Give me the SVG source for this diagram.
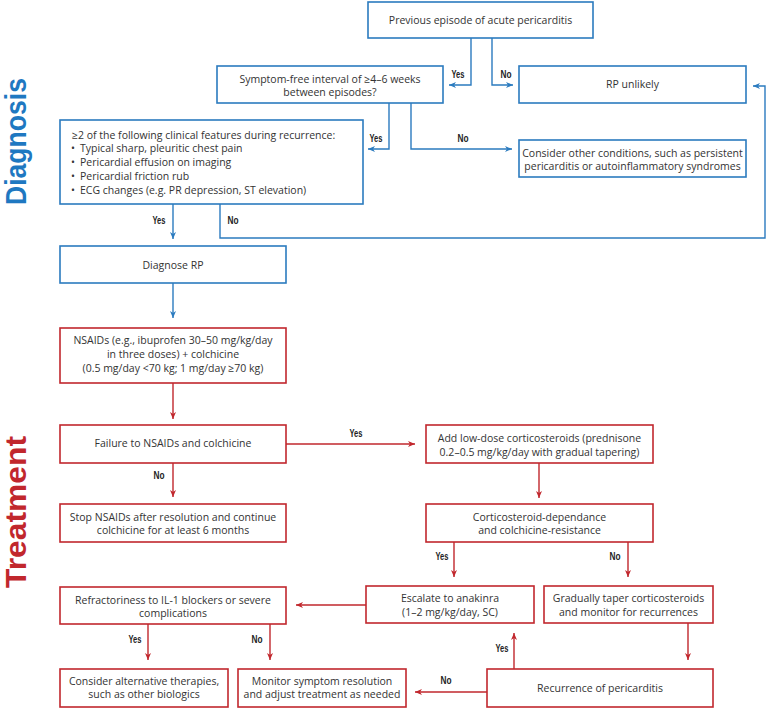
<svg xmlns="http://www.w3.org/2000/svg" width="767" height="709" viewBox="0 0 767 709">
<defs>
<marker id="ab" markerUnits="userSpaceOnUse" markerWidth="8" markerHeight="8" refX="7" refY="4" orient="auto">
<path d="M0,1 L7,4 L0,7 L2,4 z" fill="#2b7bbf"/>
</marker>
<marker id="ar" markerUnits="userSpaceOnUse" markerWidth="8" markerHeight="8" refX="7" refY="4" orient="auto">
<path d="M0,1 L7,4 L0,7 L2,4 z" fill="#c1272d"/>
</marker>
</defs>
<style>
.bb{fill:#fff;stroke:#2b7bbf;stroke-width:1.6}
.rb{fill:#fff;stroke:#c1272d;stroke-width:1.6}
.t{font-family:"Open Sans","Liberation Sans",sans-serif;font-size:10.5px;fill:#333;text-anchor:middle}
.tl{text-anchor:start}
.lb{font-family:"Liberation Sans",sans-serif;font-size:11px;font-weight:bold;fill:#222;text-anchor:middle}
.cb{fill:none;stroke:#2b7bbf;stroke-width:1.4;marker-end:url(#ab)}
.cr{fill:none;stroke:#c1272d;stroke-width:1.4;marker-end:url(#ar)}
.side{font-family:"Liberation Sans",sans-serif;font-weight:bold;font-size:29px}
</style>
<rect width="767" height="709" fill="#fff"/>
<text class="side" transform="translate(26,205) rotate(-90)" fill="#1f78c1" textLength="127" lengthAdjust="spacingAndGlyphs">Diagnosis</text>
<text class="side" transform="translate(26,588) rotate(-90)" fill="#c1272d" textLength="152" lengthAdjust="spacingAndGlyphs">Treatment</text>
<g id="connectors">
<path class="cb" d="M471,38 V85 H449"/>
<path class="cb" d="M492,38 V85 H513"/>
<path class="cb" d="M389,103 V149 H368"/>
<path class="cb" d="M411,103 V149 H512"/>
<path class="cb" d="M173,204 V239"/>
<path class="cb" d="M220,204 V238 H765 V86 H753"/>
<path class="cb" d="M173,283 V318"/>
<path class="cr" d="M173,383 V419"/>
<path class="cr" d="M286,444 H415"/>
<path class="cr" d="M173,463 V497"/>
<path class="cr" d="M539,463 V498"/>
<path class="cr" d="M454,542 V577"/>
<path class="cr" d="M628,542 V577"/>
<path class="cr" d="M688,623 V660"/>
<path class="cr" d="M514,669 V633"/>
<path class="cr" d="M487,692 H415"/>
<path class="cr" d="M366,605 H296"/>
<path class="cr" d="M148,624 V660"/>
<path class="cr" d="M270,624 V660"/>
<text class="lb" x="458" y="78" textLength="13" lengthAdjust="spacingAndGlyphs">Yes</text>
<text class="lb" x="506" y="78" textLength="11" lengthAdjust="spacingAndGlyphs">No</text>
<text class="lb" x="376" y="142" textLength="13" lengthAdjust="spacingAndGlyphs">Yes</text>
<text class="lb" x="463" y="142" textLength="11" lengthAdjust="spacingAndGlyphs">No</text>
<text class="lb" x="159" y="224" textLength="13" lengthAdjust="spacingAndGlyphs">Yes</text>
<text class="lb" x="233" y="224" textLength="11" lengthAdjust="spacingAndGlyphs">No</text>
<text class="lb" x="356" y="437" textLength="13" lengthAdjust="spacingAndGlyphs">Yes</text>
<text class="lb" x="159" y="479" textLength="11" lengthAdjust="spacingAndGlyphs">No</text>
<text class="lb" x="442" y="560" textLength="13" lengthAdjust="spacingAndGlyphs">Yes</text>
<text class="lb" x="615" y="560" textLength="11" lengthAdjust="spacingAndGlyphs">No</text>
<text class="lb" x="135" y="643" textLength="13" lengthAdjust="spacingAndGlyphs">Yes</text>
<text class="lb" x="257" y="643" textLength="11" lengthAdjust="spacingAndGlyphs">No</text>
<text class="lb" x="502" y="652" textLength="13" lengthAdjust="spacingAndGlyphs">Yes</text>
<text class="lb" x="446" y="684" textLength="11" lengthAdjust="spacingAndGlyphs">No</text>
</g>
<g id="n1"><rect class="bb" x="368" y="2" width="225" height="36"/><text class="t" x="480.5" y="24">Previous episode of acute pericarditis</text></g>
<g id="n2"><rect class="bb" x="217" y="66" width="226" height="37"/><text class="t" x="330" y="83">Symptom-free interval of ≥4–6 weeks</text><text class="t" x="330" y="96">between episodes?</text></g>
<g id="n3"><rect class="bb" x="519" y="66" width="227" height="37"/><text class="t" x="632.5" y="88">RP unlikely</text></g>
<g id="n4"><rect class="bb" x="60" y="120" width="303" height="84"/>
<text class="t tl" x="72" y="139">≥2 of the following clinical features during recurrence:</text>
<text class="t tl" x="71" y="152">•</text><text class="t tl" x="80" y="152">Typical sharp, pleuritic chest pain</text>
<text class="t tl" x="71" y="166">•</text><text class="t tl" x="80" y="166">Pericardial effusion on imaging</text>
<text class="t tl" x="71" y="180">•</text><text class="t tl" x="80" y="180">Pericardial friction rub</text>
<text class="t tl" x="71" y="194">•</text><text class="t tl" x="80" y="194">ECG changes (e.g. PR depression, ST elevation)</text>
</g>
<g id="n5"><rect class="bb" x="519" y="140" width="227" height="37"/><text class="t" x="632.5" y="157">Consider other conditions, such as persistent</text><text class="t" x="632.5" y="170">pericarditis or autoinflammatory syndromes</text></g>
<g id="n6"><rect class="bb" x="60" y="246" width="226" height="37"/><text class="t" x="173" y="269">Diagnose RP</text></g>
<g id="n7"><rect class="rb" x="60" y="328" width="226" height="55"/><text class="t" x="173" y="344">NSAIDs (e.g., ibuprofen 30–50 mg/kg/day</text><text class="t" x="173" y="358">in three doses) + colchicine</text><text class="t" x="173" y="372">(0.5 mg/day &lt;70 kg; 1 mg/day ≥70 kg)</text></g>
<g id="n8"><rect class="rb" x="60" y="425" width="226" height="38"/><text class="t" x="173" y="447">Failure to NSAIDs and colchicine</text></g>
<g id="n9"><rect class="rb" x="426" y="425" width="227" height="38"/><text class="t" x="539.5" y="442">Add low-dose corticosteroids (prednisone</text><text class="t" x="539.5" y="456">0.2–0.5 mg/kg/day with gradual tapering)</text></g>
<g id="n10"><rect class="rb" x="60" y="504" width="226" height="38"/><text class="t" x="173" y="521">Stop NSAIDs after resolution and continue</text><text class="t" x="173" y="534">colchicine for at least 6 months</text></g>
<g id="n11"><rect class="rb" x="426" y="504" width="227" height="38"/><text class="t" x="539.5" y="521">Corticosteroid-dependance</text><text class="t" x="539.5" y="534">and colchicine-resistance</text></g>
<g id="n12"><rect class="rb" x="60" y="587" width="226" height="37"/><text class="t" x="173" y="604">Refractoriness to IL-1 blockers or severe</text><text class="t" x="173" y="617">complications</text></g>
<g id="n13"><rect class="rb" x="366" y="586" width="168" height="37"/><text class="t" x="450" y="602">Escalate to anakinra</text><text class="t" x="450" y="616">(1–2 mg/kg/day, SC)</text></g>
<g id="n14"><rect class="rb" x="544" y="586" width="169" height="37"/><text class="t" x="628.5" y="602">Gradually taper corticosteroids</text><text class="t" x="628.5" y="616">and monitor for recurrences</text></g>
<g id="n15"><rect class="rb" x="60" y="669" width="168" height="38"/><text class="t" x="144" y="685">Consider alternative therapies,</text><text class="t" x="144" y="698">such as other biologics</text></g>
<g id="n16"><rect class="rb" x="238" y="669" width="168" height="38"/><text class="t" x="322" y="685">Monitor symptom resolution</text><text class="t" x="322" y="698">and adjust treatment as needed</text></g>
<g id="n17"><rect class="rb" x="487" y="669" width="226" height="38"/><text class="t" x="600" y="692">Recurrence of pericarditis</text></g>
</svg>
